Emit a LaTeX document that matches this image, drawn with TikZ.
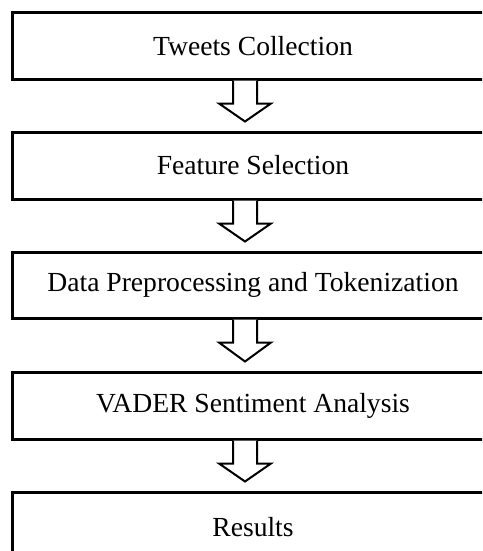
\documentclass[tikz,border=0pt]{standalone}
\usepackage{fontspec}
\setmainfont{Liberation Serif}
\usetikzlibrary{calc}
\newcommand\flowarrow[2]{%
  \draw[blockarrow] ($(#1.south)+(-20,0)$) -- ++(0,23) -- ++(-14,0)
    -- ($(#2.north)+(-8,-9)$) -- ($(#1.south)+(18,23)$) -- ++(-14,0) -- ++(0,-23);}
\begin{document}
\begin{tikzpicture}[x=1pt,y=-1pt,
  box/.style={draw, line width=3pt, minimum width=482pt, inner sep=0pt,
    font=\fontsize{27.6}{32}\selectfont},
  blockarrow/.style={draw, line width=2pt, fill=white, line join=miter}]
\useasboundingbox (0,0) rectangle (482,551);
\clip (0,0) rectangle (482,551);
\node[box, minimum height=66pt] (b1) at (253,46) {Tweets Collection};
\node[box, minimum height=67pt] (b2) at (253,165.5) {Feature Selection};
\node[box, minimum height=66pt] (b3) at (253,285) {Data Preprocessing and Tokenization};
\node[box, minimum height=67pt] (b4) at (253,405.5) {VADER Sentiment Analysis};
\node[box, minimum height=70pt] (b5) at (253,527) {Results};
\flowarrow{b1}{b2}
\flowarrow{b2}{b3}
\flowarrow{b3}{b4}
\flowarrow{b4}{b5}
\end{tikzpicture}
\end{document}
